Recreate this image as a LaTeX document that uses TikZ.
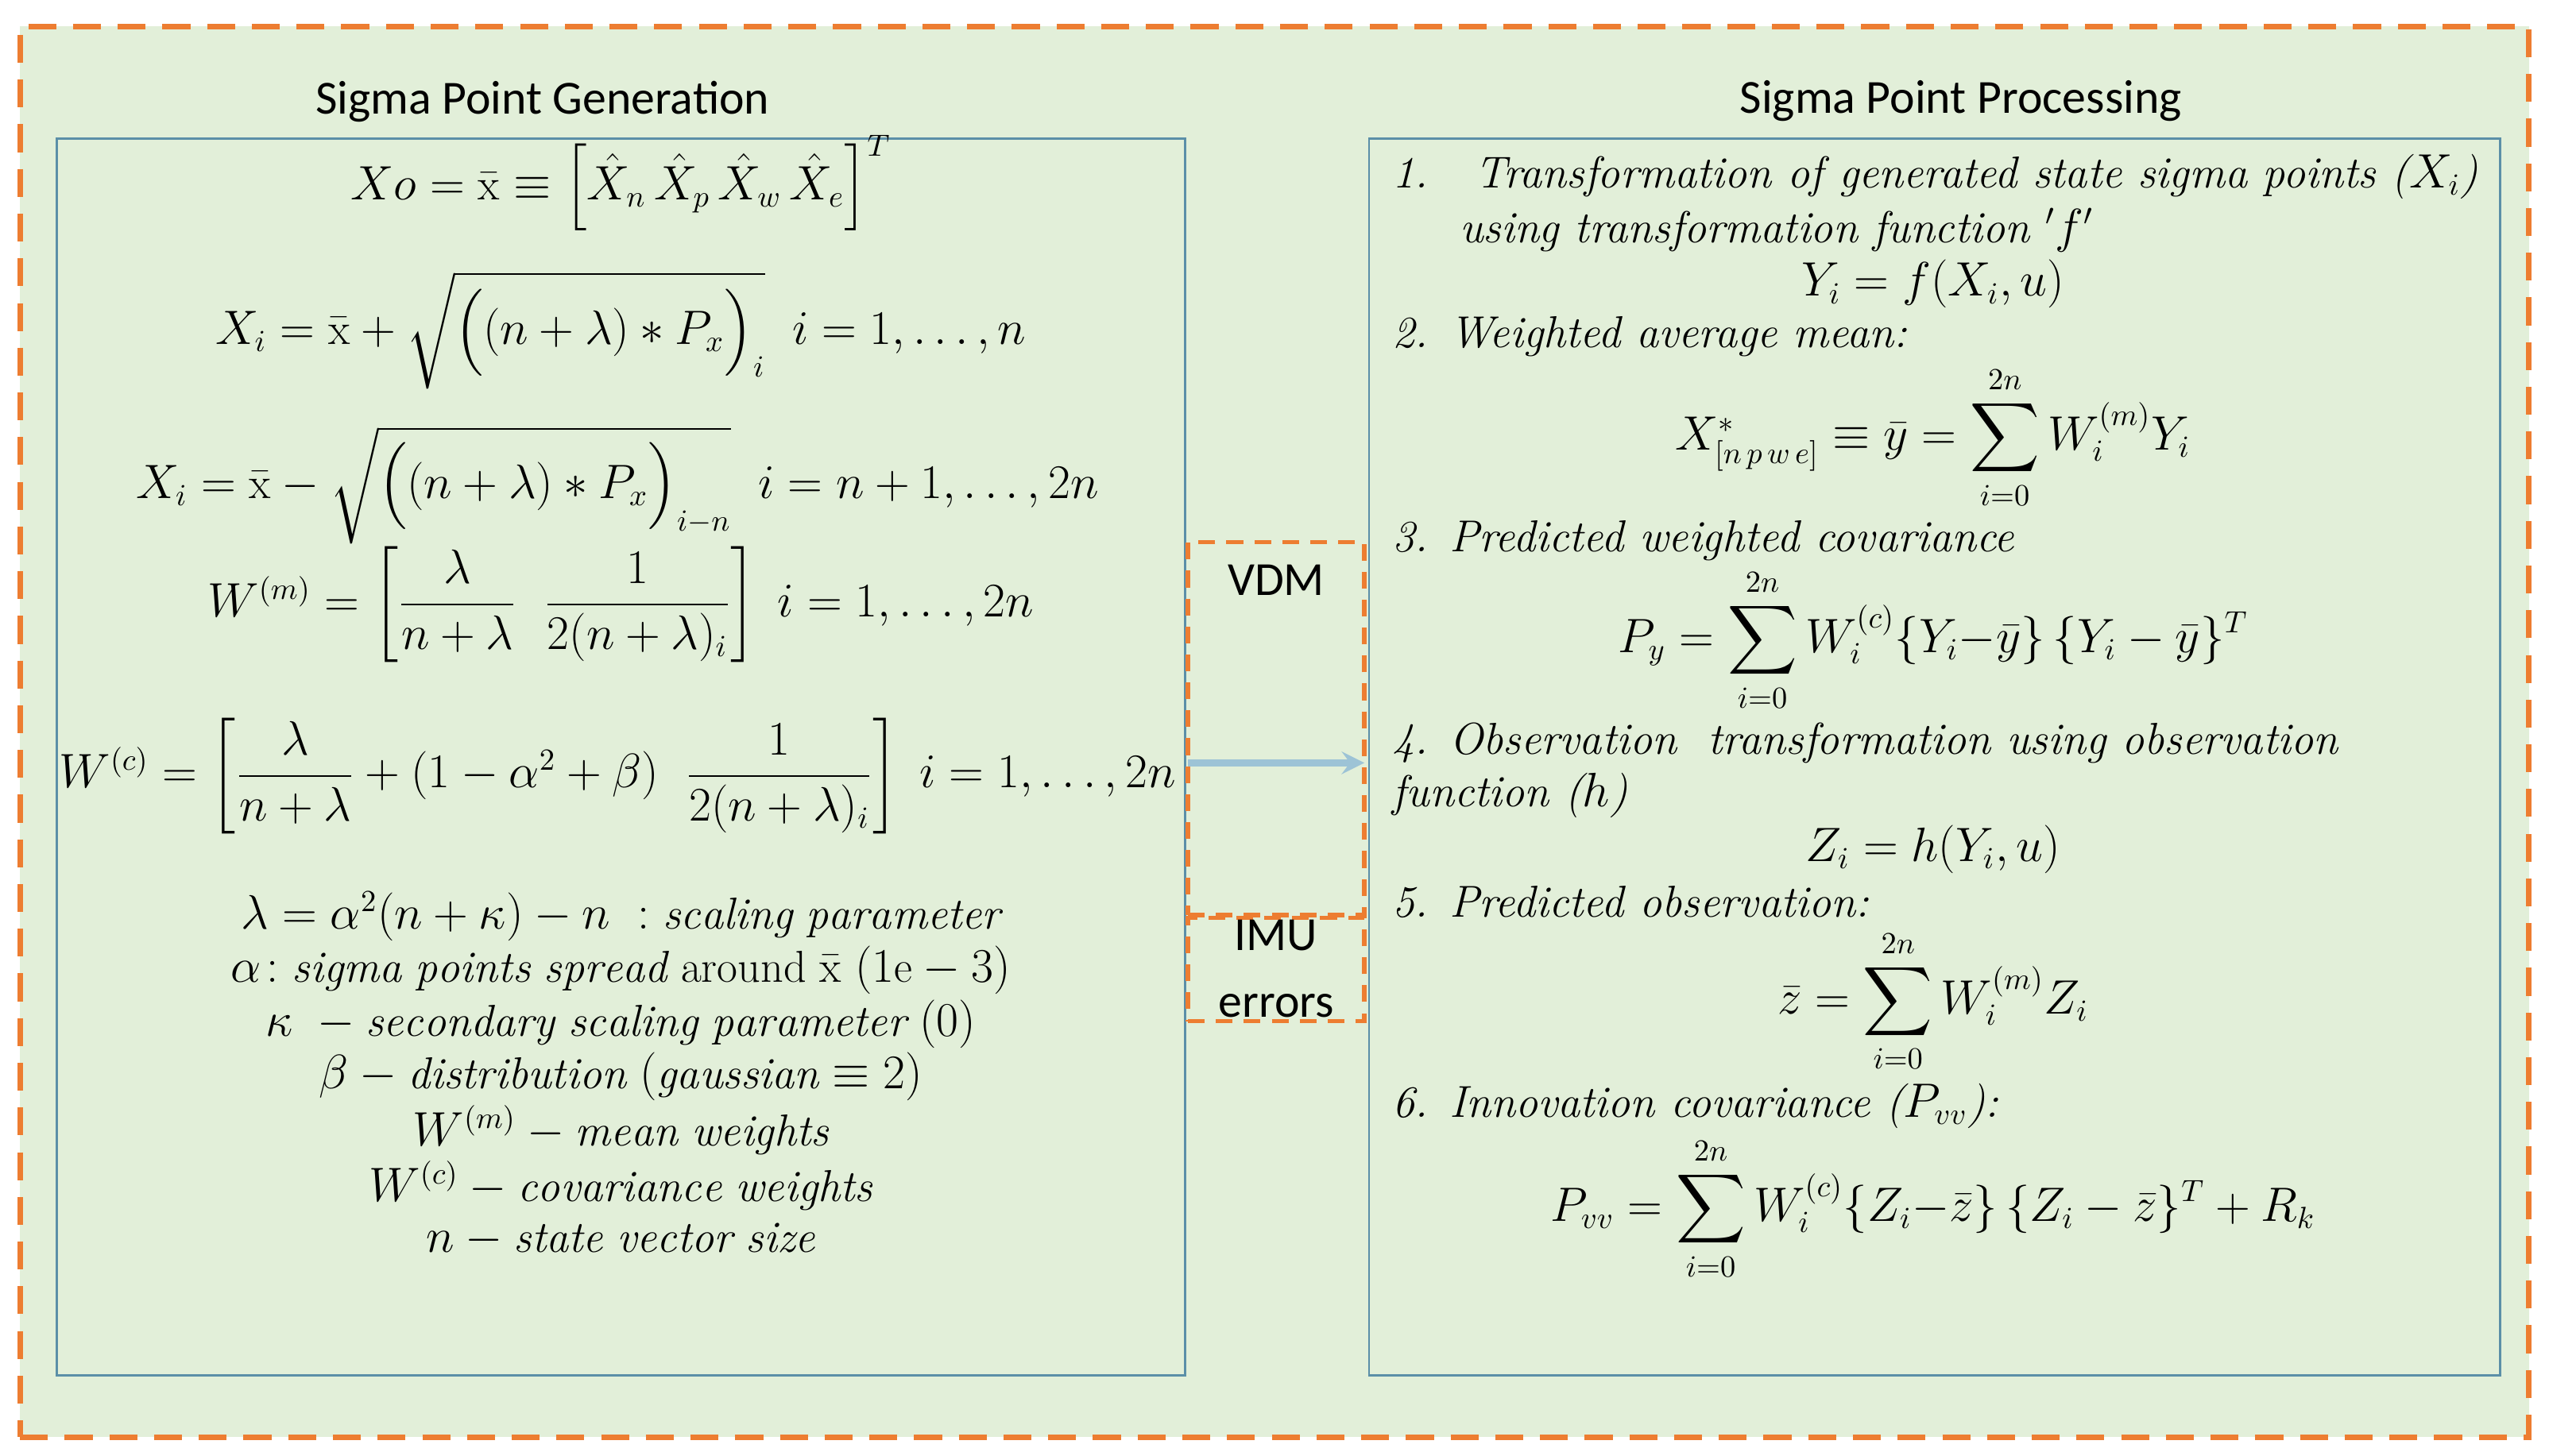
\documentclass[tikz,border=0pt]{standalone}
\usepackage{amsmath}
\usepackage{fontspec}
\newfontfamily\carl{Carlito}
\begin{document}
\begin{tikzpicture}[x=0.02056cm,y=-0.02056cm,
  eq/.style={font=\fontsize{16}{19}\selectfont,inner sep=0pt},
  tl/.style={font=\fontsize{16}{19}\selectfont\itshape,inner sep=0pt,anchor=west},
  ttl/.style={font=\carl\fontsize{17}{20}\selectfont}]
\definecolor{bg}{HTML}{E2EFD9}
\definecolor{og}{HTML}{ED7D31}
\definecolor{bl}{HTML}{5B8FA8}
\definecolor{ar}{HTML}{9DC3D6}
\useasboundingbox (0,0) rectangle (1560,891);
\node[draw=og,dashed,line width=2pt,dash pattern=on 10pt off 6pt,fill=bg,inner sep=0pt,minimum width=31.56cm,minimum height=17.75cm] (outer) at (780,448) {};
\node[draw=bl,line width=0.8pt,fill=bg,inner sep=0pt,minimum width=14.19cm,minimum height=15.56cm] (L) at (380,463.5) {};
\node[draw=bl,line width=0.8pt,fill=bg,inner sep=0pt,minimum width=14.23cm,minimum height=15.56cm] (R) at (1184,463.5) {};
\node[ttl] (tL) at (332,62) {Sigma Point Generation};
\node[ttl] (tR) at (1200,62) {Sigma Point Processing};
\node[draw=og,dashed,line width=1.6pt,dash pattern=on 6pt off 4pt,inner sep=0pt,minimum width=2.22cm,minimum height=4.69cm] (vdm) at (781,446) {};
\node[draw=og,dashed,line width=1.6pt,dash pattern=on 6pt off 4pt,inner sep=0pt,minimum width=2.22cm,minimum height=1.3cm] (imu) at (781,593.5) {};
\node[ttl,anchor=north] (vdmt) at (781,340) {VDM};
\node[ttl,align=center,font=\carl\fontsize{17}{24}\selectfont] (imut) at (781,593) {IMU\\errors};
\coordinate (a1) at (727,467);
\coordinate (a2) at (835,467);
\draw[ar,line width=2.5pt,-stealth] (a1) -- (a2);
% left
\node[eq] (e1) at (380,112) {$Xo=\bar{\mathrm{x}}\equiv\left[\hat X_n\,\hat X_p\,\hat X_w\,\hat X_e\right]^T$};
\node[eq] (e2) at (380,202) {$X_i=\bar{\mathrm{x}}+\sqrt{\Big((n+\lambda)*P_x\Big)_i}\ \ i=1,\ldots,n$};
\node[eq] (e3) at (378,297) {$X_i=\bar{\mathrm{x}}-\sqrt{\Big((n+\lambda)*P_x\Big)_{i-n}}\ \ i=n+1,\ldots,2n$};
\node[eq] (e4) at (380,370) {$W^{(m)}=\left[\dfrac{\lambda}{n+\lambda}\ \ \dfrac{1}{2(n+\lambda)_i}\right]\ i=1,\ldots,2n$};
\node[eq] (e5) at (378,475) {$W^{(c)}=\left[\dfrac{\lambda}{n+\lambda}+(1-\alpha^2+\beta)\ \ \dfrac{1}{2(n+\lambda)_i}\right]\ i=1,\ldots,2n$};
\node[eq] (l1) at (380,561) {$\lambda=\alpha^2(n+\kappa)-n\ :\mathit{scaling\ parameter}$};
\node[eq] (l2) at (380,594) {$\alpha\!:\mathit{sigma\ points\ spread}$ around $\bar{\mathrm{x}}$ $(1\mathrm{e}-3)$};
\node[eq] (l3) at (380,627) {$\kappa\ -\mathit{secondary\ scaling\ parameter}\ (0)$};
\node[eq] (l4) at (380,659) {$\beta-\mathit{distribution}\ (\mathit{gaussian}\equiv 2)$};
\node[eq] (l5) at (380,692) {$W^{(m)}-\mathit{mean\ weights}$};
\node[eq] (l6) at (380,726) {$W^{(c)}-\mathit{covariance\ weights}$};
\node[eq] (l7) at (380,759) {$n-\mathit{state\ vector\ size}$};
% right
\node[tl] (r1) at (852,108) {1.\ \ \ Transformation of generated state sigma points ($X_i$)};
\node[tl] (r1b) at (893,141) {using transformation function $'f'$};
\node[eq] (r1c) at (1183,174) {$Y_i=f(X_i,u)$};
\node[tl] (r2) at (852,206) {2. Weighted average mean:};
\node[eq] (r2e) at (1183,268) {$X^*_{[n\,p\,w\,e]}\equiv\bar y=\displaystyle\sum_{i=0}^{2n}W_i^{(m)}Y_i$};
\node[tl] (r3) at (852,331) {3. Predicted weighted covariance};
\node[eq] (r3e) at (1183,392) {$P_y=\displaystyle\sum_{i=0}^{2n}W_i^{(c)}\{Y_i{-}\bar y\}\,\{Y_i-\bar y\}^T$};
\node[tl] (r4) at (852,455) {4. Observation\ \ transformation using observation};
\node[tl] (r4b) at (852,487) {function ($h$)};
\node[eq] (r4c) at (1183,520) {$Z_i=h(Y_i,u)$};
\node[tl] (r5) at (852,552) {5. Predicted observation:};
\node[eq] (r5e) at (1183,613) {$\bar z=\displaystyle\sum_{i=0}^{2n}W_i^{(m)}Z_i$};
\node[tl] (r6) at (852,677) {6. Innovation covariance ($P_{vv}$):};
\node[eq] (r6e) at (1183,740) {$P_{vv}=\displaystyle\sum_{i=0}^{2n}W_i^{(c)}\{Z_i{-}\bar z\}\,\{Z_i-\bar z\}^T+R_k$};
\end{tikzpicture}
\end{document}
